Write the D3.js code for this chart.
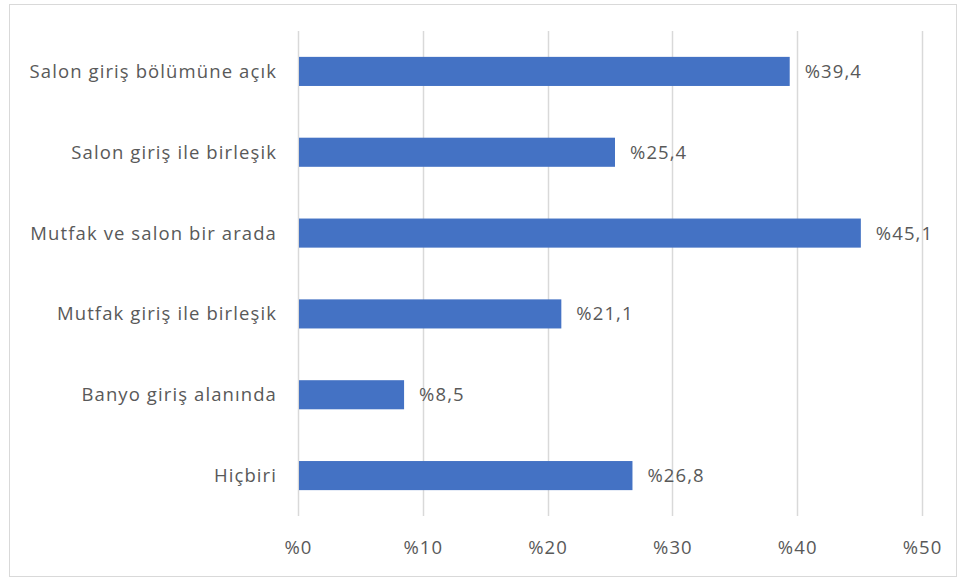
<!DOCTYPE html>
<html>
<head>
<meta charset="utf-8">
<script src="https://cdn.jsdelivr.net/npm/d3@7"></script>
<style>
  html, body { margin: 0; padding: 0; background: #fff; }
  svg { display: block; }
  text { font-family: "Open Sans", Lato, sans-serif; fill: #595959; letter-spacing: 1.1px; }
</style>
</head>
<body>
<svg id="chart" width="962" height="578"></svg>
<script>
const categories = [
  "Salon giriş bölümüne açık",
  "Salon giriş ile birleşik",
  "Mutfak ve salon bir arada",
  "Mutfak giriş ile birleşik",
  "Banyo giriş alanında",
  "Hiçbiri"
];
const values = [39.4, 25.4, 45.1, 21.1, 8.5, 26.8];
const valueLabels = ["%39,4", "%25,4", "%45,1", "%21,1", "%8,5", "%26,8"];
const tickValues = [0, 10, 20, 30, 40, 50];
const tickLabels = ["%0", "%10", "%20", "%30", "%40", "%50"];

const svg = d3.select("#chart");
const W = 962, H = 578;
const FS = 18.5;

// outer frame
svg.append("rect")
  .attr("x", 9.5).attr("y", 4.5)
  .attr("width", W - 15).attr("height", H - 6)
  .attr("fill", "#fff").attr("stroke", "#d9d9d9").attr("stroke-width", 1);

const plot = { left: 298, right: 922, top: 31, bottom: 516 };

const x = d3.scaleLinear().domain([0, 50]).range([plot.left, plot.right]);
const y = d3.scaleBand().domain(categories).range([plot.top, plot.bottom])
  .paddingInner(0.64).paddingOuter(0.32);

// vertical gridlines
svg.append("g").selectAll("line")
  .data(tickValues)
  .join("line")
  .attr("x1", d => Math.round(x(d)) + 0.5)
  .attr("x2", d => Math.round(x(d)) + 0.5)
  .attr("y1", plot.top).attr("y2", plot.bottom)
  .attr("stroke", "#d9d9d9").attr("stroke-width", 1.5);

// bars
svg.append("g").selectAll("rect")
  .data(values)
  .join("rect")
  .attr("x", x(0) + 1)
  .attr("y", (d, i) => y(categories[i]))
  .attr("width", d => x(d) - x(0) - 1)
  .attr("height", y.bandwidth())
  .attr("fill", "#4472c4");

// value labels
svg.append("g").selectAll("text")
  .data(values)
  .join("text")
  .attr("x", d => x(d) + 15)
  .attr("y", (d, i) => y(categories[i]) + y.bandwidth() / 2)
  .attr("dy", "0.35em")
  .attr("font-size", FS)
  .text((d, i) => valueLabels[i]);

// category labels
svg.append("g").selectAll("text")
  .data(categories)
  .join("text")
  .attr("x", plot.left - 21)
  .attr("y", d => y(d) + y.bandwidth() / 2)
  .attr("dy", "0.35em")
  .attr("text-anchor", "end")
  .attr("font-size", FS)
  .text(d => d);

// x tick labels
svg.append("g").selectAll("text")
  .data(tickValues)
  .join("text")
  .attr("x", d => x(d) + 0.5)
  .attr("y", 548)
  .attr("dy", "0.35em")
  .attr("text-anchor", "middle")
  .attr("font-size", FS)
  .text((d, i) => tickLabels[i]);
</script>
</body>
</html>
